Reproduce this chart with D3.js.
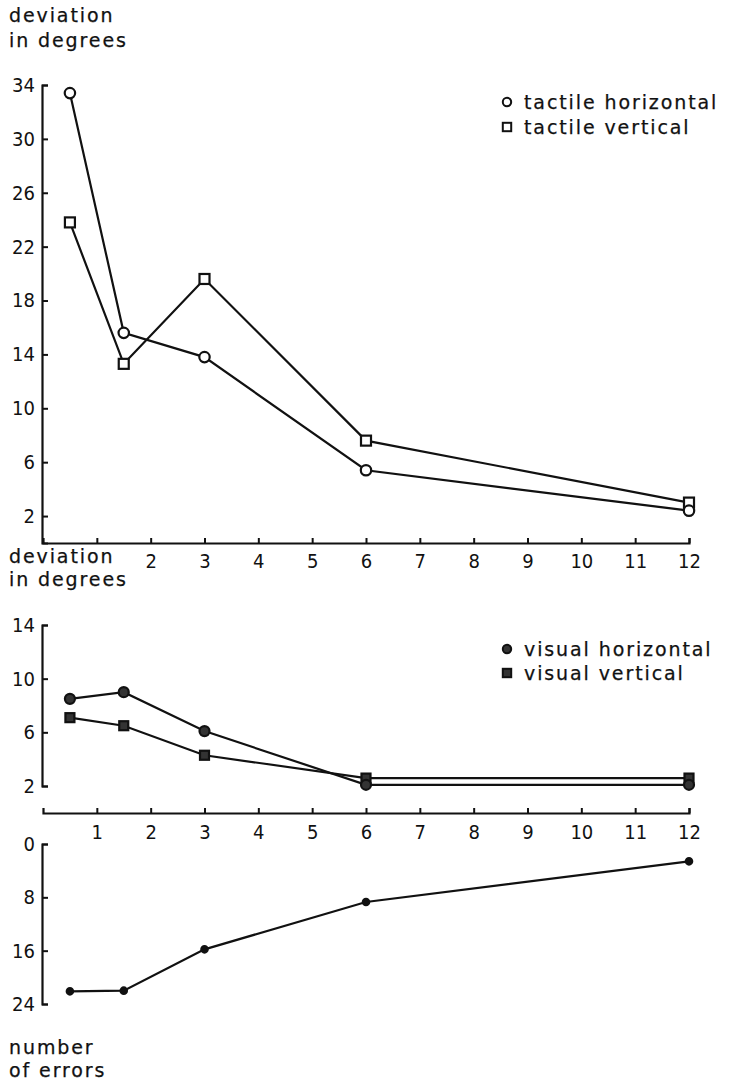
<!DOCTYPE html>
<html>
<head>
<meta charset="utf-8">
<script src="https://cdn.jsdelivr.net/npm/d3@7"></script>
<style>
  html, body { margin: 0; padding: 0; background: #fff; }
  svg { display: block; }
  .lbl { font-family: "DejaVu Sans", sans-serif; font-size: 19px; letter-spacing: 1.9px; fill: #111; stroke: #111; stroke-width: 0.25px; }
  .axis .domain { stroke: #111; stroke-width: 2.2; fill: none; }
  .axis .tick line { stroke: #111; stroke-width: 2; }
  .axis .tick text { font-family: "DejaVu Sans Condensed", "DejaVu Sans", sans-serif; font-stretch: condensed; font-size: 20px; fill: #111; }
  .series { fill: none; stroke: #111; stroke-width: 2.2; }
</style>
</head>
<body>
<svg id="chart" width="730" height="1085"></svg>
<script>
// Viewing time (x) shared by all three panels
const viewingTimes = [0.5, 1.5, 3, 6, 12];
const xTicks = [1, 2, 3, 4, 5, 6, 7, 8, 9, 10, 11, 12];

// Panel 1: tactile deviation in degrees
const tactileHorizontal = [33.4, 15.6, 13.8, 5.4, 2.4];
const tactileVertical = [23.8, 13.3, 19.6, 7.6, 3.0];
const tactileTicks = [2, 6, 10, 14, 18, 22, 26, 30, 34];

// Panel 2: visual deviation in degrees
const visualHorizontal = [8.5, 9.0, 6.1, 2.1, 2.1];
const visualVertical = [7.1, 6.5, 4.3, 2.6, 2.6];
const visualTicks = [2, 6, 10, 14];

// Panel 3: number of errors (axis runs downward)
const errorCounts = [22.1, 22.0, 15.8, 8.7, 2.6];
const errorTicks = [0, 8, 16, 24];

const svg = d3.select("#chart");
const INK = "#111";

const x = d3.scaleLinear().domain([0, 12]).range([43, 689]);

const y1 = d3.scaleLinear().domain([0, 34]).range([543, 85]);
const y2 = d3.scaleLinear().domain([2, 14]).range([786, 625]);
const y2base = d3.scaleLinear().domain([0, 14]).range([813, 625]);
const y3 = d3.scaleLinear().domain([0, 24]).range([844, 1004]);

function leftAxis(scale, ticks) {
  return d3.axisLeft(scale)
    .tickValues(ticks)
    .tickSizeInner(-6)
    .tickSizeOuter(-6)
    .tickPadding(7)
    .tickFormat(d3.format("d"));
}

function bottomAxis(pad, fmt) {
  return d3.axisBottom(x)
    .tickValues(xTicks)
    .tickSizeInner(-5)
    .tickSizeOuter(-5)
    .tickPadding(pad)
    .tickFormat(fmt);
}

// ---- Panel 1 ----
svg.append("g").attr("class", "axis")
  .attr("transform", `translate(${x(0) - 1},0)`)
  .call(leftAxis(y1, tactileTicks));
svg.append("g").attr("class", "axis")
  .attr("transform", `translate(0,${y1(0)})`)
  .call(bottomAxis(11, d => d === 1 ? "" : String(d)));

// ---- Panel 2 ----
svg.append("g").attr("class", "axis")
  .attr("transform", `translate(${x(0) - 1},0)`)
  .call(leftAxis(y2, visualTicks));
svg.append("g").attr("class", "axis")
  .attr("transform", `translate(0,${y2base(0)})`)
  .call(bottomAxis(12, d => String(d)));

// ---- Panel 3 ----
svg.append("g").attr("class", "axis")
  .attr("transform", `translate(${x(0) - 1},0)`)
  .call(leftAxis(y3, errorTicks));

// Series lines
function drawLine(values, yScale) {
  const line = d3.line().x((d, i) => x(viewingTimes[i])).y(d => yScale(d));
  svg.append("path").attr("class", "series").attr("d", line(values));
}

drawLine(tactileHorizontal, y1);
drawLine(tactileVertical, y1);
drawLine(visualVertical, y2base);
drawLine(visualHorizontal, y2base);
drawLine(errorCounts, y3);

// Markers
function circles(values, yScale, r, fill) {
  svg.append("g").selectAll("circle").data(values).join("circle")
    .attr("cx", (d, i) => x(viewingTimes[i]))
    .attr("cy", d => yScale(d))
    .attr("r", r)
    .attr("fill", fill)
    .attr("stroke", INK)
    .attr("stroke-width", 2.2);
}
function squares(values, yScale, s, fill) {
  svg.append("g").selectAll("rect").data(values).join("rect")
    .attr("x", (d, i) => x(viewingTimes[i]) - s / 2)
    .attr("y", d => yScale(d) - s / 2)
    .attr("width", s)
    .attr("height", s)
    .attr("fill", fill)
    .attr("stroke", INK)
    .attr("stroke-width", 2.2);
}

squares(tactileVertical, y1, 10, "#fff");
circles(tactileHorizontal, y1, 5.2, "#fff");
squares(visualVertical, y2base, 9, "#333");
circles(visualHorizontal, y2base, 5, "#333");
circles(errorCounts, y3, 3.2, INK);

// Legends
function legendRow(yPos, marker, fill, label) {
  const mx = 507;
  if (marker === "circle") {
    svg.append("circle").attr("cx", mx).attr("cy", yPos).attr("r", 4.2)
      .attr("fill", fill).attr("stroke", INK).attr("stroke-width", 2);
  } else {
    svg.append("rect").attr("x", mx - 4.2).attr("y", yPos - 4.2)
      .attr("width", 8.4).attr("height", 8.4)
      .attr("fill", fill).attr("stroke", INK).attr("stroke-width", 2);
  }
  svg.append("text").attr("class", "lbl")
    .attr("x", 524).attr("y", yPos).attr("dy", "0.36em").text(label);
}
legendRow(102, "circle", "#fff", "tactile horizontal");
legendRow(127, "square", "#fff", "tactile vertical");
legendRow(649, "circle", "#333", "visual horizontal");
legendRow(673, "square", "#333", "visual vertical");

// Axis titles
function title(xPos, yPos, text) {
  svg.append("text").attr("class", "lbl")
    .attr("x", xPos).attr("y", yPos).attr("dy", "0.36em").text(text);
}
title(9, 15, "deviation");
title(9, 40, "in degrees");
title(9, 556, "deviation");
title(9, 579, "in degrees");
title(9, 1047, "number");
title(9, 1070, "of errors");
</script>
</body>
</html>
